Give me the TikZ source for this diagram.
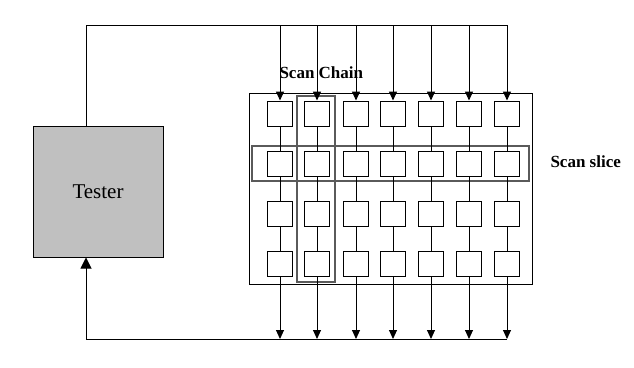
\documentclass[tikz,border=0pt]{standalone}
\usepackage{fontspec}
\setmainfont{Liberation Serif}
\usetikzlibrary{arrows.meta}
\definecolor{TesterGray}{HTML}{C0C0C0}
\definecolor{FrameGray}{HTML}{5A5A5A}

\begin{document}
\begin{tikzpicture}[x=1pt, y=-1pt, line width=1pt, >={Triangle[width=8pt,length=9pt]}]
  \tikzstyle{cell}=[rectangle, draw, minimum width=25pt, minimum height=25pt, inner sep=0pt]
  \tikzstyle{frame}=[rectangle, draw=FrameGray, line width=1.4pt, inner sep=0pt]
  \tikzstyle{lbl}=[font=\fontsize{17}{20}\selectfont\bfseries, inner sep=0pt, anchor=west]
  \useasboundingbox (0,0) rectangle (634,367);
  \node[rectangle, draw, fill=TesterGray, minimum width=130pt, minimum height=131pt,
    font=\fontsize{21}{25}\selectfont] (tester) at (98,191.5) {Tester};
  \node[rectangle, draw, minimum width=283pt, minimum height=191pt] (array) at (390.5,188.5) {};
  \node[frame, minimum width=38pt, minimum height=186pt] (chain) at (316,189) {};
  \node[frame, minimum width=277pt, minimum height=35pt] (slice) at (390.5,163.5) {};
  \node[lbl] (chainlbl) at (279,73) {Scan Chain};
  \node[lbl] (slicelbl) at (550,162) {Scan slice};
  % cells, one column per scan chain
  \foreach \x [count=\i] in {280,317,356,393,431,469,507} {
    \foreach \y [count=\j] in {113.5,163.5,213.5,264}
      \node[cell] (c\i-\j) at (\x,\y) {};
    \coordinate (top\i) at (\x,25);
    \coordinate (bot\i) at (\x,339);
    \draw[->] (top\i) -- (c\i-1.north);
    \draw (c\i-1) -- (c\i-2);
    \draw (c\i-2) -- (c\i-3);
    \draw (c\i-3) -- (c\i-4);
    \draw[->] (c\i-4.south) -- (bot\i);
  }
  \coordinate (tout) at (86,25);
  \coordinate (tin) at (86,339);
  \draw (tout |- tester.north) -- (tout) -- (top7);
  \draw[-{Triangle[width=11pt,length=11pt]}] (bot7) -- (tin) -- (tin |- tester.south);
\end{tikzpicture}
\end{document}
